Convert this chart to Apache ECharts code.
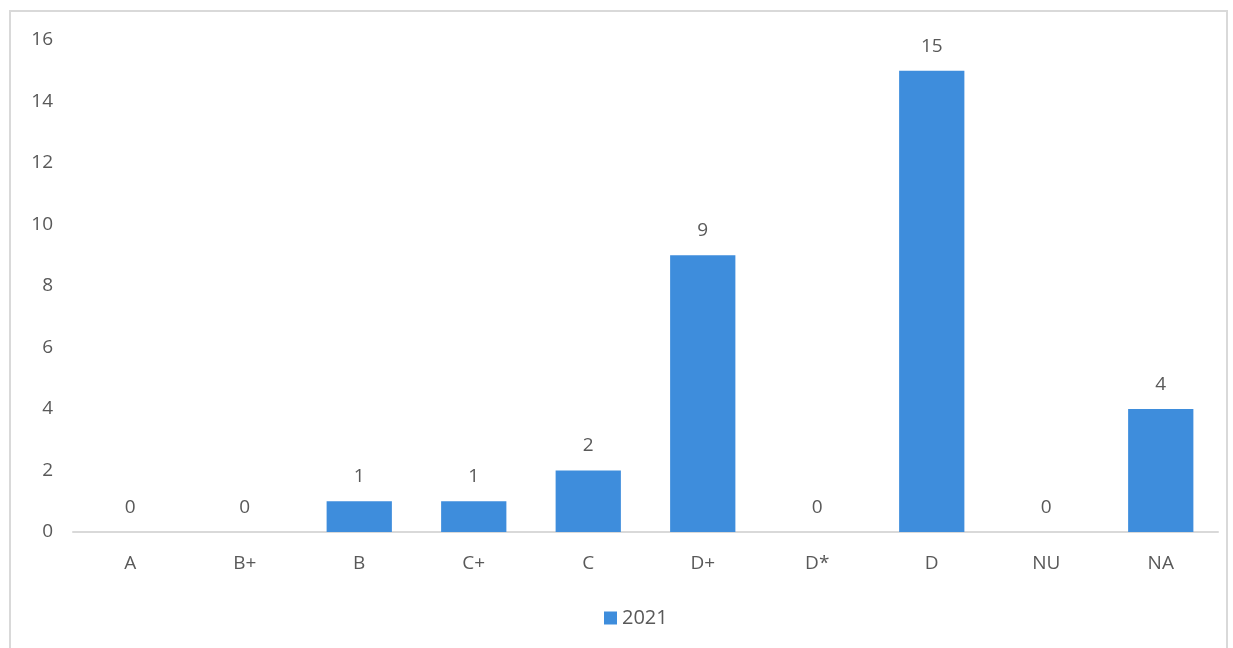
<!DOCTYPE html>
<html>
<head>
<meta charset="utf-8">
<style>
  html, body { margin: 0; padding: 0; background: #fff; }
  #frame { position: absolute; left: 9px; top: 10px; width: 1219px; height: 660px; border: 2px solid #d9d9d9; box-sizing: border-box; }
  #chart { position: absolute; left: 0; top: 0; width: 1233px; height: 648px; }
</style>
<script src="https://cdn.jsdelivr.net/npm/echarts@6/dist/echarts.min.js"></script>
</head>
<body>
<div id="frame"></div>
<div id="chart"></div>
<script>
// Grade distribution for 2021
const categories = ['A', 'B+', 'B', 'C+', 'C', 'D+', 'D*', 'D', 'NU', 'NA'];
const values2021 = [0, 0, 1, 1, 2, 9, 0, 15, 0, 4];
const seriesName = '2021';

const textColor = '#595959';
const fontFamily = '"Open Sans", "Liberation Sans", sans-serif';
const fontSize = 19;

const chart = echarts.init(document.getElementById('chart'), null, { renderer: 'canvas' });
chart.setOption({
  animation: false,
  textStyle: { fontFamily: fontFamily },
  grid: { left: 73, right: 15, top: 40, bottom: 116, containLabel: false },
  legend: {
    top: 603,
    left: 599,
    itemWidth: 13,
    itemHeight: 13,
    icon: 'rect',
    textStyle: { color: textColor, fontSize: 20, fontFamily: fontFamily },
    data: [seriesName]
  },
  xAxis: {
    type: 'category',
    data: categories,
    axisLine: { lineStyle: { color: '#d9d9d9', width: 2 } },
    axisTick: { show: false },
    axisLabel: { color: textColor, fontSize: fontSize, margin: 22, fontFamily: fontFamily }
  },
  yAxis: {
    type: 'value',
    min: 0,
    max: 16,
    interval: 2,
    axisLine: { show: false },
    axisTick: { show: false },
    splitLine: { show: false },
    axisLabel: { color: textColor, fontSize: fontSize, margin: 20, fontFamily: fontFamily }
  },
  series: [{
    name: seriesName,
    type: 'bar',
    data: values2021,
    barWidth: '57%',
    itemStyle: { color: '#3e8ddc' },
    label: {
      show: true,
      position: 'top',
      distance: 15,
      color: textColor,
      fontSize: fontSize,
      fontFamily: fontFamily
    }
  }]
});
</script>
</body>
</html>
